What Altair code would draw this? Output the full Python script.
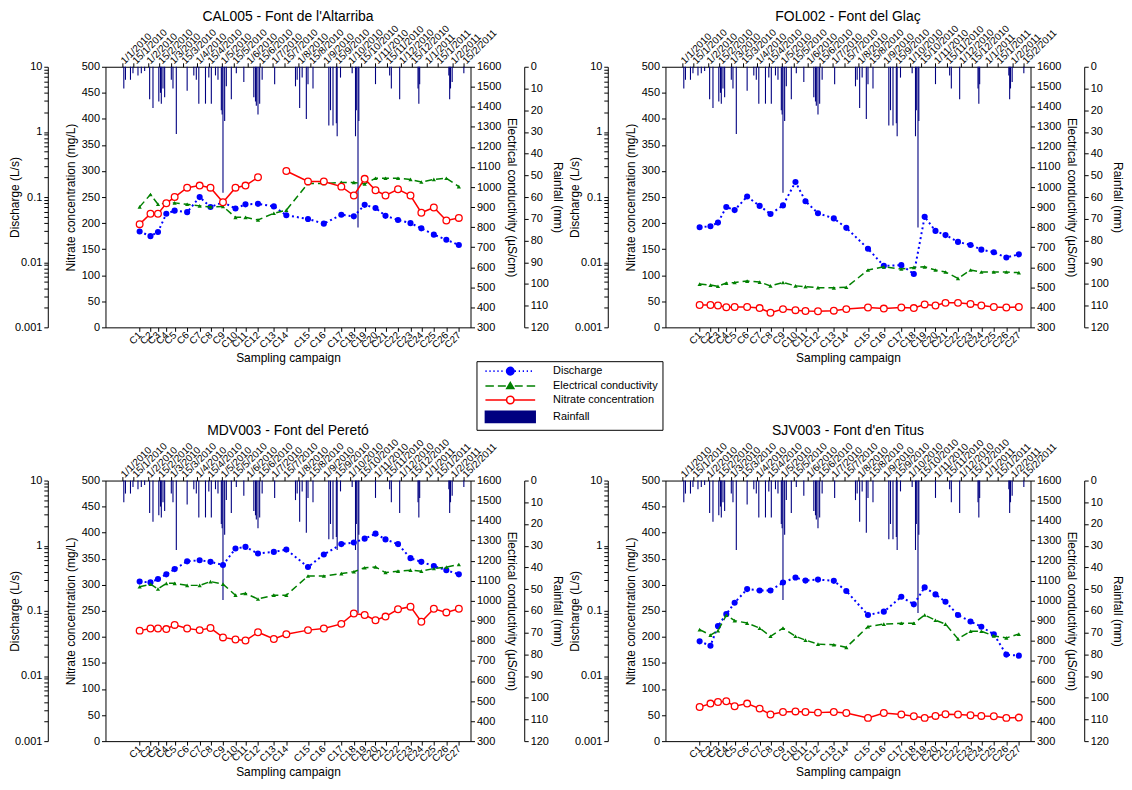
import json
import altair as alt
import pandas as pd

FONT = "Liberation Sans"

# ---------------- shared x positions ----------------
campaign_labels = ["C1", "C2", "C3", "C4", "C5", "C6", "C7", "C8", "C9", "C10",
                   "C11", "C12", "C13", "C14", "C15", "C16", "C17", "C18", "C19",
                   "C20", "C21", "C22", "C23", "C24", "C25", "C26", "C27"]
# days since 1/1/2010
campaign_day = [21, 34, 43, 53, 63, 78, 93, 106, 121, 136, 148, 163, 182, 197,
                223, 242, 263, 278, 291, 304, 316, 331, 346, 359, 374, 389, 404]

date_tick_day = [0, 14, 31, 45, 59, 73, 90, 104, 120, 134, 151, 165, 181, 195,
                 212, 226, 243, 257, 273, 287, 304, 318, 334, 348, 365, 379, 396, 410]
date_tick_label = ["1/1/2010", "15/1/2010", "1/2/2010", "15/2/2010", "1/3/2010",
                   "15/3/2010", "1/4/2010", "15/4/2010", "1/5/2010", "15/5/2010",
                   "1/6/2010", "15/6/2010", "1/7/2010", "15/7/2010", "1/8/2010",
                   "15/8/2010", "1/9/2010", "15/9/2010", "1/10/2010", "15/10/2010",
                   "1/11/2010", "15/11/2010", "1/12/2010", "15/12/2010", "1/1/2011",
                   "15/1/2011", "1/2/2011", "15/2/2011"]

# ---------------- rainfall (mm) ----------------
rain_day = [2, 4, 10, 13, 19, 23, 27, 33, 37, 44, 46, 47, 49, 51, 59, 61, 65, 78,
            86, 89, 92, 100, 104, 107, 112, 115, 119, 120, 121, 123, 125, 131, 137,
            146, 158, 160, 161, 163, 165, 168, 183, 208, 210, 213, 216, 221, 223,
            229, 248, 250, 253, 257, 258, 262, 276, 280, 281, 283, 284, 304, 321,
            323, 333, 355, 356, 357, 392, 393, 394, 396, 410]
rain_top = [10, 6, 6, 3, 4, 3, 2, 15, 19, 16, 12, 17, 10, 14, 6, 10, 31, 11,
            4, 6, 17, 17, 5, 17, 4, 6, 20, 22, 58, 25, 9, 15, 3,
            7, 14, 16, 18, 22, 17, 6, 8, 9, 6, 19, 5, 24, 8,
            10, 27, 20, 27, 26, 32, 5, 3, 32, 20, 74, 25, 8, 4,
            10, 15, 10, 17, 8, 4, 15, 10, 7, 3]
rain_bottom = [10, 6, 6, 3, 4, 3, 2, 15, 19, 16, 12, 17, 10, 14, 6, 10, 32, 11,
               4, 6, 17, 17, 5, 17, 4, 6, 20, 22, 55, 25, 9, 15, 3,
               7, 14, 16, 18, 22, 17, 6, 8, 9, 6, 19, 5, 24, 8,
               10, 27, 20, 27, 26, 32, 5, 3, 32, 20, 61, 25, 8, 4,
               10, 15, 10, 17, 8, 4, 15, 10, 7, 3]

# ---------------- CAL005 ----------------
cal_discharge = [0.0296, 0.0251, 0.0291, 0.0555, 0.0619, 0.0586, 0.100, 0.0705, 0.0832,
                 0.0667, 0.0773, 0.0787, 0.0718, 0.0525, 0.0461, 0.0391, 0.0535, 0.0506,
                 0.0759, 0.0679, 0.0515, 0.0445, 0.0398, 0.0331, 0.0265, 0.0221, 0.0184]
cal_ec = [901, 963, 914, 921, 921, 914, 906, 901, 903, 849, 849, 836, 869, 885,
          1018, 1018, 1023, 1023, 1015, 1044, 1044, 1044, 1038, 1025, 1038, 1044, 1002]
cal_nitrate = [198, 218, 218, 238, 250, 268, 272, 268, 240, 268, 272, 288, None, 300,
               280, 280, 270, 253, 285, 263, 253, 265, 253, 220, 230, 205, 210]

# ---------------- FOL002 ----------------
fol_discharge = [0.0344, 0.0356, 0.0406, 0.0705, 0.0631, 0.1019, 0.0731, 0.0550, 0.0745,
                 0.1706, 0.0863, 0.0565, 0.0470, 0.0337, 0.0161, 0.0088, 0.0090, 0.0066,
                 0.0497, 0.0302, 0.0261, 0.0205, 0.0184, 0.0156, 0.0142, 0.0118, 0.0132]
fol_ec = [516, 511, 505, 521, 524, 531, 526, 507, 524, 507, 503, 498, 497, 500,
          586, 602, 591, 599, 602, 586, 576, 544, 586, 576, 576, 576, 573]
fol_nitrate = [43, 43, 42, 38.5, 39, 39, 37, 28, 35, 33, 31.5, 31, 32, 35,
               38, 36, 38, 37, 44, 42, 47, 47, 45, 42, 39, 38, 39]

# ---------------- MDV003 ----------------
mdv_discharge = [0.281, 0.273, 0.308, 0.363, 0.437, 0.575, 0.597, 0.565, 0.506,
                 0.904, 0.957, 0.759, 0.802, 0.871, 0.470, 0.731, 1.057, 1.117,
                 1.282, 1.528, 1.247, 1.057, 0.643, 0.565, 0.488, 0.421, 0.363]
mdv_ec = [1070, 1083, 1059, 1087, 1087, 1077, 1077, 1096, 1083, 1028, 1037, 1009, 1028, 1028,
          1124, 1124, 1136, 1145, 1165, 1169, 1141, 1148, 1153, 1148, 1161, 1168, 1181]
mdv_nitrate = [212, 216, 216, 215, 223, 216, 213, 217, 199, 195, 193, 209, 196, 205,
               213, 216, 225, 245, 242, 232, 239, 253, 258, 229, 254, 247, 254]

# ---------------- SJV003 ----------------
sjv_discharge = [0.0340, 0.0291, 0.0586, 0.0889, 0.1333, 0.2157, 0.2051, 0.2051, 0.2723,
                 0.3251, 0.2911, 0.3020, 0.2889, 0.2014, 0.0863, 0.0971, 0.1644, 0.1257,
                 0.2291, 0.1786, 0.1380, 0.0863, 0.0687, 0.0570, 0.0437, 0.0213, 0.0205]
sjv_ec = [856, 829, 851, 928, 901, 889, 864, 823, 864, 823, 804, 784, 781, 768,
          871, 884, 888, 888, 929, 903, 884, 810, 848, 848, 825, 815, 834]
sjv_nitrate = [65.6, 72, 75, 76.4, 67, 72, 62.4, 51, 56, 57, 56, 54.7, 56, 54,
               44.6, 54, 51, 47.8, 44.6, 48.4, 51.6, 51, 49.7, 48.4, 47.8, 44.6, 45.2]

# ---------------- legend ----------------
legend_names = ["Discharge", "Electrical conductivity", "Nitrate concentration", "Rainfall"]
legend_fill = ["#0000FF", "#008000", "#FFFFFF", "#000080"]
legend_stroke = ["#0000FF", "#008000", "#FF0000", "#000080"]


def _dots(a, b, step, length):
    out, x = [], a
    while x + length <= b + 1e-9:
        out.append(f"M{x:.2f},0L{x + length:.2f},0")
        x += step
    return "".join(out)


CIRCLE = "M0.75,0A0.75,0.75 0 1,1 -0.75,0A0.75,0.75 0 1,1 0.75,0Z"
legend_paths = [
    _dots(-5, -0.9, 0.8, 0.25) + _dots(0.9, 5, 0.8, 0.25) + CIRCLE,
    "M-5,0L-3.3,0M-2.5,0L-0.9,0M0.9,0L2.5,0M3.3,0L5,0M0,-0.7L0.7,0.5L-0.7,0.5Z",
    "M-5,0L-0.75,0M0.75,0L5,0" + CIRCLE,
    "M-5,-1.1L5,-1.1L5,1.1L-5,1.1Z",
]

W, H = 367, 262
X_DOMAIN = [-20, 418]
log_ticks = [m * 10 ** e for e in range(-3, 1) for m in range(1, 10)] + [10]


def lab_expr(values, labels):
    return f"{json.dumps(labels)}[indexof({json.dumps(values)}, datum.value)]"


def panel(title, discharge, ec, nitrate, rain, legend=False):
    df = pd.DataFrame({"day": campaign_day, "campaign": campaign_labels,
                       "discharge": discharge, "ec": ec, "nitrate": nitrate})
    rdf = pd.DataFrame({"day": rain_day, "rain": rain})
    xs = alt.Scale(domain=X_DOMAIN, nice=False, zero=False)
    x_none = alt.X("day:Q", scale=xs, axis=None)
    top_axis = alt.Axis(orient="top", values=date_tick_day,
                        labelExpr=lab_expr(date_tick_day, date_tick_label),
                        labelAngle=-45, labelAlign="left", labelBaseline="middle",
                        labelFontSize=10, title=None, tickSize=4, labelPadding=1)
    bottom_axis = alt.Axis(orient="bottom", values=campaign_day,
                           labelExpr=lab_expr(campaign_day, campaign_labels),
                           labelAngle=-45, labelAlign="right", labelBaseline="middle",
                           labelFontSize=10, title="Sampling campaign", tickSize=4,
                           labelPadding=2, titlePadding=3)

    rain_layer = alt.Chart(rdf).mark_rule(color="#000080", strokeWidth=1.1).encode(
        x=alt.X("day:Q", scale=xs, axis=top_axis),
        y=alt.Y("rain:Q", scale=alt.Scale(domain=[0, 120], reverse=True, nice=False),
                axis=alt.Axis(orient="right", offset=54, values=list(range(0, 121, 10)),
                              title="Rainfall (mm)", titlePadding=2)),
        y2=alt.datum(0),
    )

    d_y = alt.Y("discharge:Q",
                scale=alt.Scale(type="log", domain=[0.001, 10], nice=False),
                axis=alt.Axis(orient="left", offset=58, values=log_ticks, format="~g",
                              labelExpr="indexof([0.001,0.01,0.1,1,10], datum.value) >= 0 ? datum.label : ''",
                              title="Discharge (L/s)", titlePadding=-7))
    d_layer = alt.layer(
        alt.Chart(df).mark_line(color="#0000FF", strokeDash=[2, 3], strokeWidth=2).encode(x=x_none, y=d_y),
        alt.Chart(df).mark_point(shape="circle", filled=True, color="#0000FF", size=38, opacity=1).encode(x=x_none, y=d_y),
    )

    e_y = alt.Y("ec:Q", scale=alt.Scale(domain=[300, 1600], nice=False, zero=False),
                axis=alt.Axis(orient="right", values=list(range(300, 1601, 100)), format="d",
                              title="Electrical conductivity (µS/cm)"))
    e_layer = alt.layer(
        alt.Chart(df).mark_line(color="#008000", strokeDash=[7, 4], strokeWidth=1.5).encode(x=x_none, y=e_y),
        alt.Chart(df).mark_point(shape="triangle-up", filled=True, color="#008000", size=18, opacity=1).encode(x=x_none, y=e_y),
    )

    n_x = alt.X("day:Q", scale=xs, axis=bottom_axis)
    n_y = alt.Y("nitrate:Q", scale=alt.Scale(domain=[0, 500], nice=False),
                axis=alt.Axis(orient="left", values=list(range(0, 501, 50)),
                              title="Nitrate concentration (mg/L)"))
    n_layer = alt.layer(
        alt.Chart(df).mark_line(color="#FF0000", strokeWidth=1.5,
                                invalid="break-paths-filter-domains").encode(x=n_x, y=n_y),
        alt.Chart(df).mark_point(shape="circle", filled=True, fill="#FFFFFF", stroke="#FF0000",
                                 strokeWidth=1.3, size=45, opacity=1).encode(x=n_x, y=n_y),
    )

    layers = [rain_layer, d_layer, e_layer, n_layer]
    if legend:
        leg_df = pd.DataFrame({"series": legend_names})
        lp = alt.Legend(title=None, orient="none", legendX=373, legendY=296,
                        strokeColor="black", fillColor="white", padding=4,
                        symbolSize=100, symbolStrokeWidth=1.6, symbolOpacity=1,
                        symbolOffset=24, labelOffset=37, labelFont=FONT,
                        labelFontSize=11, labelColor="black", rowPadding=1)
        leg = alt.Chart(leg_df).mark_point(opacity=0, filled=True).encode(
            x=alt.value(0), y=alt.value(0),
            shape=alt.Shape("series:N", scale=alt.Scale(domain=legend_names, range=legend_paths), legend=lp),
            fill=alt.Fill("series:N", scale=alt.Scale(domain=legend_names, range=legend_fill), legend=lp),
            stroke=alt.Stroke("series:N", scale=alt.Scale(domain=legend_names, range=legend_stroke), legend=lp),
        )
        layers.append(leg)

    return alt.layer(*layers).resolve_scale(
        x="shared", y="independent"
    ).resolve_axis(
        x="independent", y="independent"
    ).properties(
        width=W, height=H,
        title=alt.Title(title, fontSize=14, font=FONT, fontWeight="normal",
                        anchor="middle", offset=-1, color="black"),
    )


tl = panel("CAL005 - Font de l'Altarriba", cal_discharge, cal_ec, cal_nitrate, rain_top, legend=True)
tr = panel("FOL002 - Font del Glaç", fol_discharge, fol_ec, fol_nitrate, rain_top)
bl = panel("MDV003 - Font del Peretó", mdv_discharge, mdv_ec, mdv_nitrate, rain_bottom)
br = panel("SJV003 - Font d'en Titus", sjv_discharge, sjv_ec, sjv_nitrate, rain_bottom)

chart = alt.concat(
    tl, tr, bl, br, columns=2, spacing={"row": 154, "column": 196}, bounds="flush"
).properties(
    padding={"left": 0, "top": 0, "right": 0, "bottom": 0}, background="white"
).configure_axis(
    labelFont=FONT, titleFont=FONT, labelFontSize=11, titleFontSize=12,
    titleFontWeight="normal", labelColor="black", titleColor="black",
    domainColor="black", tickColor="black", grid=False, tickSize=4,
    labelOverlap=False, labelFlush=False
).configure_view(strokeWidth=0)

chart.save("out.html", embed_options={"renderer": "svg", "actions": False})
